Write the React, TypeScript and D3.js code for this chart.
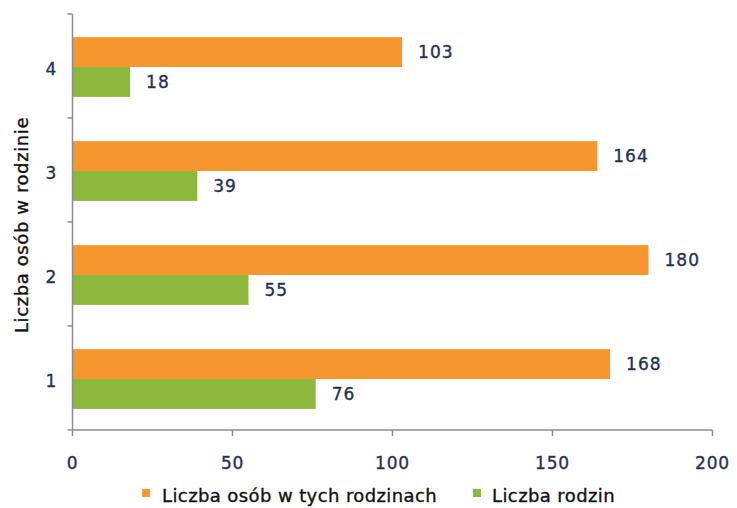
import React from "react";
import * as d3 from "d3";

const categories = ["4", "3", "2", "1"];
const seriesNames = ["Liczba osób w tych rodzinach", "Liczba rodzin"];
const osoby = [103, 164, 180, 168];
const rodziny = [18, 39, 55, 76];
const xTicks = [0, 50, 100, 150, 200];
const yTitle = "Liczba osób w rodzinie";

const COLORS = ["#F7962F", "#8CB83B"];
const TXT = "#1F3158";
const AXIS = "#8C8C8C";
const FONT = "'DejaVu Sans', sans-serif";

export default function App() {
  const W = 737, H = 508;
  const x = d3.scaleLinear().domain([0, 200]).range([72.5, 712.5]);
  const y = d3.scaleBand().domain(categories).range([14, 430]).paddingInner(0).paddingOuter(0);
  const y1 = d3.scaleBand().domain(seriesNames).range([0, y.bandwidth()]).paddingInner(0).paddingOuter(0.74);
  const values = [osoby, rodziny];
  const yBoundaries = [...categories.map((c) => y(c) as number), 430];
  const heavy = { stroke: "currentColor", strokeWidth: 0.35 } as const;

  return (
    <svg width={W} height={H} style={{ position: "absolute", left: 0, top: 0, background: "#fff" }} fontFamily={FONT}>
      {/* bars */}
      {categories.map((c, i) => (
        <g key={c} transform={`translate(0,${(y(c) as number) + 1})`}>
          {seriesNames.map((s, si) => {
            const v = values[si][i];
            const by = y1(s) as number;
            return (
              <g key={s}>
                <rect x={x(0)} y={by} width={x(v) - x(0)} height={y1.bandwidth()} fill={COLORS[si]} />
                <text x={x(v) + 16} y={by + y1.bandwidth() / 2} dy="0.36em" fontSize={17} fill={TXT} color={TXT} letterSpacing={1} {...heavy}>
                  {v}
                </text>
              </g>
            );
          })}
        </g>
      ))}
      {/* y axis */}
      <line x1={x(0)} x2={x(0)} y1={14} y2={430} stroke={AXIS} strokeWidth={1.5} />
      {yBoundaries.map((b, i) => (
        <line key={i} x1={x(0) - 5} x2={x(0)} y1={b} y2={b} stroke={AXIS} strokeWidth={1.5} />
      ))}
      {categories.map((c) => (
        <text key={c} x={51} y={(y(c) as number) + y.bandwidth() / 2 + 3} dy="0.36em" textAnchor="middle" fontSize={17} fill={TXT} color={TXT} {...heavy}>
          {c}
        </text>
      ))}
      {/* x axis */}
      <line x1={x(0)} x2={x(200)} y1={430} y2={430} stroke={AXIS} strokeWidth={1.5} />
      {xTicks.map((t) => (
        <g key={t}>
          <line x1={x(t)} x2={x(t)} y1={430} y2={436} stroke={AXIS} strokeWidth={1.5} />
          <text x={x(t)} y={463} dy="0.36em" textAnchor="middle" fontSize={17} fill={TXT} color={TXT} letterSpacing={0.8} {...heavy}>
            {t}
          </text>
        </g>
      ))}
      {/* y title */}
      <text transform={`translate(28,225) rotate(-90)`} textAnchor="middle" fontSize={18} fill="#111" color="#111" letterSpacing={0.6} {...heavy}>
        {yTitle}
      </text>
      {/* legend */}
      <rect x={142} y={489} width={8} height={8} fill={COLORS[0]} />
      <text x={162} y={502} fontSize={18} fill="#111" color="#111" letterSpacing={0.4} {...heavy}>{seriesNames[0]}</text>
      <rect x={473} y={489} width={8} height={8} fill={COLORS[1]} />
      <text x={492} y={502} fontSize={18} fill="#111" color="#111" letterSpacing={0.4} {...heavy}>{seriesNames[1]}</text>
    </svg>
  );
}
